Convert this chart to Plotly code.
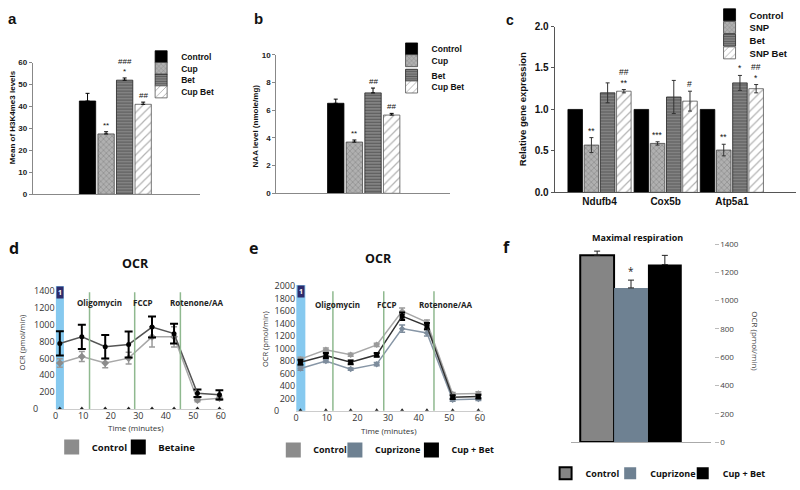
import plotly.graph_objects as go

W, H = 800, 490


def xd(a, b):
    return [a / W, b / W]


def yd(t, b):
    return [1 - b / H, 1 - t / H]


def px(p):
    return p / W


def py(p):
    return 1 - p / H


ARIAL = "Liberation Sans, Arial"
SEGOE = "Open Sans, Noto Sans"

# ---------------- data ----------------
ab_names = ["Control", "Cup", "Bet", "Cup Bet"]
a_vals = [42.5, 27.5, 52.0, 41.0]
a_err = [3.5, 1.0, 1.0, 1.0]
a_sig = ["", "**", "###<br>*", "##"]

b_vals = [6.5, 3.7, 7.25, 5.65]
b_err = [0.3, 0.15, 0.35, 0.12]
b_sig = ["", "**", "##", "##"]

c_genes = ["Ndufb4", "Cox5b", "Atp5a1"]
c_names = ["Control", "SNP", "Bet", "SNP Bet"]
c_vals = [
    [1.0, 1.0, 1.0],
    [0.57, 0.59, 0.51],
    [1.20, 1.15, 1.32],
    [1.22, 1.10, 1.25],
]
c_err = [
    [0.0, 0.0, 0.0],
    [0.09, 0.02, 0.07],
    [0.12, 0.20, 0.09],
    [0.02, 0.12, 0.05],
]
c_sig = [
    ["", "", ""],
    ["**", "***", "**"],
    ["", "", "*"],
    ["##<br>**", "#", "##<br>*"],
]

d_time = [1.5, 9.5, 18, 26.5, 35, 43, 51.5, 59.5]
d_ctrl = [545, 622, 545, 603, 856, 856, 105, 128]
d_ctrl_err = [50, 60, 55, 70, 120, 120, 20, 25]
d_bet = [778, 856, 739, 766, 972, 894, 187, 167]
d_bet_err = [145, 145, 140, 155, 125, 117, 45, 55]
d_base = [0, 0, 0, 0, 0, 0, 0, 0]
d_inj = [12.3, 28.7, 45.3]
d_inj_lab_x = [16, 31.6, 51]
d_yticks = [0, 200, 400, 600, 800, 1000, 1200, 1400]

e_time = [1.4, 9.7, 17.8, 26.3, 34.6, 42.7, 51.1, 59.5]
e_ctrl = [830, 980, 900, 1060, 1600, 1420, 270, 280]
e_ctrl_err = [30, 30, 25, 25, 50, 40, 25, 25]
e_cup = [680, 800, 670, 750, 1320, 1250, 180, 190]
e_cup_err = [30, 25, 20, 25, 60, 50, 25, 25]
e_cb = [780, 890, 780, 900, 1520, 1360, 220, 230]
e_cb_err = [40, 40, 30, 30, 60, 50, 30, 30]
e_base = [0, 0, 0, 0, 0, 0, 0, 0]
e_inj = [12.0, 28.6, 45.0]
e_inj_lab_x = [13.5, 29.7, 48.6]
e_yticks = [0, 200, 400, 600, 800, 1000, 1200, 1400, 1600, 1800, 2000]
inj_labels = ["Oligomycin", "FCCP", "Rotenone/AA"]

f_names = ["Control", "Cuprizone", "Cup + Bet"]
f_vals = [1320, 1090, 1255]
f_err = [30, 55, 65]
f_sig = ["", "*", ""]


def tick_text(vals):
    # the zero label is drawn separately (it sits further left in the reference)
    return ["" if v == 0 else str(v) for v in vals]


# ---------------- styles ----------------
bar_styles = [
    dict(color="#000000", line=dict(color="#000", width=0.8)),
    dict(color="#a0a0a0", line=dict(color="#444", width=0.8),
         pattern=dict(shape="x", fgcolor="#555", bgcolor="#b0b0b0", size=4, solidity=0.25)),
    dict(color="#666", line=dict(color="#222", width=0.8),
         pattern=dict(shape="-", fgcolor="#2a2a2a", bgcolor="#8a8a8a", size=3, solidity=0.45)),
    dict(color="#fff", line=dict(color="#555", width=0.8),
         pattern=dict(shape="/", fgcolor="#666", bgcolor="#ffffff", size=6, solidity=0.2)),
]

fig = go.Figure()
annotations = []
legends = {}
_leg_count = [0]


def new_legend(x_text, y_mid, size, family):
    """one legend box per entry so entries sit where the reference puts them"""
    _leg_count[0] += 1
    key = "legend" if _leg_count[0] == 1 else "legend%d" % _leg_count[0]
    legends[key] = dict(x=px(x_text - 41), y=py(y_mid), xanchor="left", yanchor="middle",
                        bgcolor="rgba(0,0,0,0)", borderwidth=0,
                        font=dict(family=family, size=size, color="#111"))
    return key


# ---------------- panel a / b ----------------
a_leg_y = [51, 63, 75, 87]
b_leg_y = [43, 55, 70, 82]
for vals, errs, sigs, xa, ya, lx, ly in [
    (a_vals, a_err, a_sig, "x", "y", 180, a_leg_y),
    (b_vals, b_err, b_sig, "x2", "y2", 432, b_leg_y),
]:
    for i, nm in enumerate(ab_names):
        fig.add_trace(go.Bar(
            x=[i], y=[vals[i]], width=0.88, name="<b>%s</b>" % nm,
            marker=bar_styles[i], xaxis=xa, yaxis=ya,
            legend=new_legend(lx, ly[i], 8.5, ARIAL),
            error_y=dict(type="data", array=[errs[i]], arrayminus=[0], symmetric=False,
                         color="#000", thickness=1, width=2),
        ))
        if sigs[i]:
            annotations.append(dict(x=i, y=vals[i] + errs[i], xref=xa, yref=ya,
                                    text=sigs[i], showarrow=False, yanchor="bottom",
                                    font=dict(family=ARIAL, size=8, color="#111")))

# ---------------- panel c ----------------
c_slot = 0.245
c_leg_y = [8, 21, 34, 47]
for i, nm in enumerate(c_names):
    xs = [g + (i - 1.5) * c_slot for g in range(len(c_genes))]
    fig.add_trace(go.Bar(
        x=xs, y=c_vals[i], width=0.22, name="<b>%s</b>" % nm,
        marker=bar_styles[i], xaxis="x3", yaxis="y3",
        legend=new_legend(752, c_leg_y[i], 9.5, ARIAL),
        error_y=dict(type="data", array=c_err[i], color="#333", thickness=1, width=2,
                     visible=(i > 0)),
    ))
    for g in range(len(c_genes)):
        if c_sig[i][g]:
            annotations.append(dict(x=xs[g], y=c_vals[i][g] + c_err[i][g], xref="x3", yref="y3",
                                    text=c_sig[i][g], showarrow=False, yanchor="bottom",
                                    font=dict(family=ARIAL, size=8.5, color="#111")))

# ---------------- panel d ----------------
fig.add_trace(go.Scatter(x=d_time, y=d_ctrl, mode="lines+markers", showlegend=False,
                         line=dict(color="#a8a8a8", width=1.5),
                         marker=dict(symbol="diamond", size=6, color="#8c8c8c"),
                         error_y=dict(type="data", array=d_ctrl_err, color="#9a9a9a",
                                      thickness=1.5, width=3),
                         xaxis="x4", yaxis="y4"))
fig.add_trace(go.Scatter(x=d_time, y=d_bet, mode="lines+markers", showlegend=False,
                         line=dict(color="#555", width=1.5),
                         marker=dict(symbol="circle", size=5, color="#000"),
                         error_y=dict(type="data", array=d_bet_err, color="#000",
                                      thickness=2, width=4),
                         xaxis="x4", yaxis="y4"))
fig.add_trace(go.Scatter(x=d_time, y=d_base, mode="markers", showlegend=False,
                         marker=dict(symbol="triangle-up", size=5, color="#222"),
                         xaxis="x4", yaxis="y4"))
for nm, col, lx in [("Control", "#8c8c8c", 90), ("Betaine", "#000", 157)]:
    fig.add_trace(go.Scatter(x=[None], y=[None], mode="markers", name="<b>%s</b>" % nm,
                             marker=dict(symbol="square", size=15, color=col),
                             xaxis="x4", yaxis="y4", legend=new_legend(lx, 451, 9.5, SEGOE)))

# ---------------- panel e ----------------
for vals, errs, lc, mc, sym, th in [
    (e_ctrl, e_ctrl_err, "#a8a8a8", "#9a9a9a", "diamond", 1.5),
    (e_cup, e_cup_err, "#8796a6", "#7d8c9c", "diamond", 1.5),
    (e_cb, e_cb_err, "#333", "#000", "square", 2),
]:
    fig.add_trace(go.Scatter(x=e_time, y=vals, mode="lines+markers", showlegend=False,
                             line=dict(color=lc, width=1.5),
                             marker=dict(symbol=sym, size=5, color=mc),
                             error_y=dict(type="data", array=errs, color=mc, thickness=th, width=3),
                             xaxis="x5", yaxis="y5"))
fig.add_trace(go.Scatter(x=e_time, y=e_base, mode="markers", showlegend=False,
                         marker=dict(symbol="triangle-up", size=5, color="#222"),
                         xaxis="x5", yaxis="y5"))
for nm, col, lx in [("Control", "#8c8c8c", 313), ("Cuprizone", "#6e8192", 375),
                    ("Cup + Bet", "#000", 452)]:
    fig.add_trace(go.Scatter(x=[None], y=[None], mode="markers", name="<b>%s</b>" % nm,
                             marker=dict(symbol="square", size=15, color=col),
                             xaxis="x5", yaxis="y5", legend=new_legend(lx, 454, 9, SEGOE)))

# ---------------- panel f ----------------
f_cols = ["#858585", "#6e8192", "#000000"]
f_leg_x = [587, 652, 725]
for i, nm in enumerate(f_names):
    fig.add_trace(go.Bar(
        x=[i], y=[f_vals[i]], width=1.0, name="<b>%s</b>" % nm,
        marker=dict(color=f_cols[i], line=dict(color="#000", width=2 if i == 0 else 0)),
        error_y=dict(type="data", array=[f_err[i]], arrayminus=[0], symmetric=False,
                     color="#222", thickness=1, width=3),
        xaxis="x6", yaxis="y6", legend=new_legend(f_leg_x[i], 478, 9, SEGOE),
    ))
    if f_sig[i]:
        annotations.append(dict(x=i, y=f_vals[i] + f_err[i], xref="x6", yref="y6",
                                text=f_sig[i], showarrow=False, yanchor="bottom",
                                font=dict(family=SEGOE, size=10, color="#222")))

# ---------------- shapes ----------------
shapes = []
for xa, ya, injs in [("x4", "y4", d_inj), ("x5", "y5", e_inj)]:
    shapes.append(dict(type="rect", xref=xa, yref=ya + " domain", x0=0, x1=3, y0=0, y1=1,
                       fillcolor="#86c9ef", line=dict(width=0), layer="below"))
    for t in injs:
        shapes.append(dict(type="line", xref=xa, yref=ya + " domain", x0=t, x1=t, y0=0, y1=0.95,
                           line=dict(color="#8fb98f", width=1.5)))
    annotations.append(dict(x=1.5, y=1, xref=xa, yref=ya + " domain", text="<b>1</b>",
                            showarrow=False, yanchor="top", bgcolor="#2e2b6b", borderpad=1,
                            font=dict(family=SEGOE, size=7, color="#fff")))

for xa, ya, labx, yy in [("x4", "y4", d_inj_lab_x, 0.93), ("x5", "y5", e_inj_lab_x, 0.905)]:
    for lx, lab in zip(labx, inj_labels):
        annotations.append(dict(x=lx, y=yy, xref=xa, yref=ya + " domain", text="<b>%s</b>" % lab,
                                showarrow=False, font=dict(family=SEGOE, size=8, color="#222")))

# zero labels of the OCR y axes, placed left of the other tick labels
for ya, xpix in [("y4", 33), ("y5", 275)]:
    annotations.append(dict(x=px(xpix), y=0, xref="paper", yref=ya, text="0", showarrow=False,
                            xanchor="center", yanchor="middle",
                            font=dict(family=SEGOE, size=9, color="#333")))


# ---------------- texts ----------------
def txt(x, y, t, size, family=ARIAL, angle=0, color="#111"):
    annotations.append(dict(x=px(x), y=py(y), xref="paper", yref="paper", text=t,
                            showarrow=False, textangle=angle, xanchor="center", yanchor="middle",
                            font=dict(family=family, size=size, color=color)))


txt(10, 12, "<b>a</b>", 15)
txt(257, 12, "<b>b</b>", 15)
txt(510, 13, "<b>c</b>", 14)
txt(11, 247, "<b>d</b>", 16, SEGOE)
txt(252, 247, "<b>e</b>", 16, SEGOE)
txt(507, 246, "<b>f</b>", 16, SEGOE)

txt(9, 113, "<b>Mean of H3K4me3 levels</b>", 8, angle=-90)
txt(254, 122, "<b>NAA level (nmole/mg)</b>", 8, angle=-90)
txt(523, 105, "<b>Relative gene expression</b>", 9.5, angle=-90)

txt(133, 263, "<b>OCR</b>", 12.5, SEGOE)
txt(378, 258, "<b>OCR</b>", 12.5, SEGOE)
txt(638, 236, "<b>Maximal respiration</b>", 9, SEGOE)

txt(19, 344, "OCR (pmol/min)", 7.5, SEGOE, angle=-90, color="#333")
txt(263, 340, "OCR (pmol/min)", 7.5, SEGOE, angle=-90, color="#333")
txt(757, 343, "OCR (pmol/min)", 8, SEGOE, angle=90, color="#444")
txt(134, 431, "Time (minutes)", 8, SEGOE, color="#333")
txt(388, 434, "Time (minutes)", 8, SEGOE, color="#333")

# ---------------- layout ----------------
bar_y = dict(showgrid=False, zeroline=False, showline=True, linecolor="#888", linewidth=1,
             ticks="outside", ticklen=3, tickcolor="#888",
             tickfont=dict(family=ARIAL, size=8, color="#222", weight="bold"))
bar_x = dict(showgrid=False, zeroline=False, showline=True, linecolor="#888", linewidth=1,
             showticklabels=False, ticks="")
ocr_x = dict(showgrid=False, zeroline=False, showline=True, linecolor="#ccc", linewidth=1,
             ticks="", dtick=10, ticklabelstandoff=-2,
             tickfont=dict(family=SEGOE, size=9, color="#333"))
ocr_y = dict(showgrid=False, zeroline=False, showline=False, ticks="",
             tickfont=dict(family=SEGOE, size=9, color="#333"))

fig.update_layout(
    width=W, height=H, margin=dict(l=0, r=0, t=0, b=0),
    paper_bgcolor="white", plot_bgcolor="white", barmode="overlay",
    xaxis=dict(bar_x, domain=xd(30, 198), range=[-2.95, 6.05], anchor="y"),
    yaxis=dict(bar_y, domain=yd(57, 192), range=[0, 60], dtick=10, anchor="x"),
    xaxis2=dict(bar_x, domain=xd(275, 450), range=[-3.19, 6.14], anchor="y2"),
    yaxis2=dict(bar_y, domain=yd(49, 191), range=[0, 10], dtick=2, anchor="x2"),
    xaxis3=dict(showgrid=False, zeroline=False, showline=True, linecolor="#555", ticks="",
                domain=xd(555, 798), range=[-0.68, 2.97], anchor="y3",
                tickvals=[0, 1, 2], ticktext=c_genes,
                tickfont=dict(family=ARIAL, size=10, color="#111", weight="bold")),
    yaxis3=dict(showgrid=False, zeroline=False, showline=True, linecolor="#555",
                ticks="outside", ticklen=3, tickcolor="#555",
                domain=yd(20, 190), range=[0, 2], dtick=0.5, tickformat=".1f", anchor="x3",
                tickfont=dict(family=ARIAL, size=10, color="#111", weight="bold")),
    xaxis4=dict(ocr_x, domain=xd(53, 222), range=[0, 61], anchor="y4"),
    yaxis4=dict(ocr_y, domain=yd(286, 412), range=[0, 1460], anchor="x4",
                tickvals=d_yticks, ticktext=tick_text(d_yticks)),
    xaxis5=dict(ocr_x, domain=xd(295, 483), range=[0, 61], anchor="y5"),
    yaxis5=dict(ocr_y, domain=yd(285, 414), range=[0, 2020], anchor="x5",
                tickvals=e_yticks, ticktext=tick_text(e_yticks)),
    xaxis6=dict(showgrid=False, zeroline=False, showline=True, linecolor="#aaa",
                showticklabels=False, ticks="", domain=xd(572, 712), range=[-0.76, 3.35],
                anchor="y6"),
    yaxis6=dict(showgrid=False, zeroline=False, showline=False, side="right",
                anchor="free", position=715 / W, ticks="outside", ticklen=4, tickcolor="#bbb",
                domain=yd(243, 446), range=[0, 1400], dtick=200,
                tickfont=dict(family=SEGOE, size=8, color="#444")),
    shapes=shapes,
    annotations=annotations,
    **legends,
)

fig.write_html("out.html", config={"displayModeBar": False},
               post_script="document.body.style.margin='0';")
